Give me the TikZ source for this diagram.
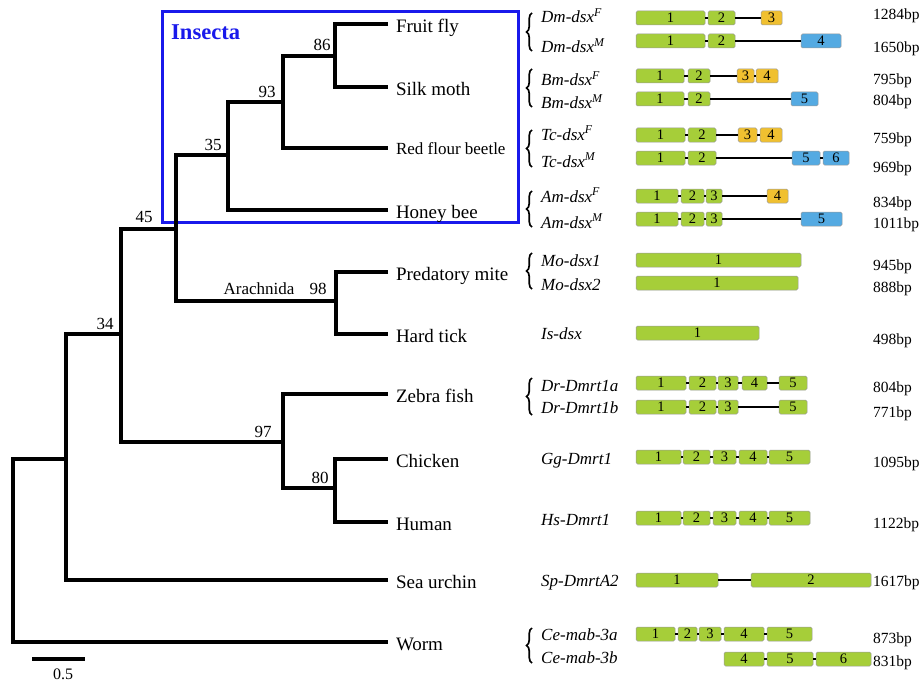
\documentclass[tikz,border=0pt]{standalone}
\usepackage{fontspec}
\setmainfont{Liberation Serif}
\usetikzlibrary{decorations.pathreplacing}
\definecolor{exg}{RGB}{166,206,57}
\definecolor{exo}{RGB}{240,192,48}
\definecolor{exb}{RGB}{84,170,226}
\definecolor{insblue}{RGB}{25,25,235}
\newcommand\exn[6]{\node[exon,fill=#5,minimum width={(#3)-(#2)}] (#1) at ({((#2)+(#3))/2},#4) {#6};}
\begin{document}
\begin{tikzpicture}[x=1pt,y=-1pt,
  branch/.style={line width=3.2pt,line join=miter},
  tip/.style={anchor=west,inner xsep=8pt,inner ysep=0pt,outer sep=0pt,text height=16.6pt,text depth=0pt,font=\fontsize{19}{22}\selectfont},
  boot/.style={inner sep=0pt,font=\fontsize{17}{20}\selectfont},
  gene/.style={anchor=base west,inner sep=0pt,font=\fontsize{17}{20}\selectfont\itshape},
  bp/.style={anchor=base west,inner sep=0pt,font=\fontsize{15.5}{18}\selectfont},
  exon/.style={draw=black!40,line width=0.5pt,rounded corners=1.5pt,minimum height=14pt,inner sep=0pt,font=\fontsize{14.5}{15}\selectfont},
  intron/.style={line width=1.6pt,black},
  brc/.style={decorate,decoration={brace,amplitude=5.5pt},line width=1.7pt}]
\useasboundingbox (0,0) rectangle (923,682);

% Insecta box
\node[draw=insblue,line width=3pt,minimum width=356pt,minimum height=210pt,inner sep=0pt,outer sep=0pt,anchor=north west] (insbox) at (162,12) {};
\node[anchor=base west,inner sep=0pt,text=insblue,font=\fontsize{22.6}{26}\selectfont\bfseries] (insecta) at (171,40) {Insecta};

% tips
\node[tip] (fruit) at (388,24) {Fruit fly};
\node[tip] (silk) at (388,87) {Silk moth};
\node[tip,font=\fontsize{17}{20}\selectfont,text height=12pt] (beetle) at (388,148) {Red flour beetle};
\node[tip] (bee) at (388,210) {Honey bee};
\node[tip] (mite) at (388,272) {Predatory mite};
\node[tip] (tick) at (388,334) {Hard tick};
\node[tip] (zebra) at (388,394) {Zebra fish};
\node[tip] (chicken) at (388,459) {Chicken};
\node[tip] (human) at (388,522) {Human};
\node[tip] (urchin) at (388,580) {Sea urchin};
\node[tip] (worm) at (388,642) {Worm};

% internal nodes
\coordinate (n86) at (335,56);
\coordinate (n93) at (283,102);
\coordinate (n35) at (228,155);
\coordinate (n45) at (176,229);
\coordinate (n98) at (336,301);
\coordinate (n80) at (335,488);
\coordinate (n97) at (283,442);
\coordinate (n34) at (121,334);
\coordinate (nA) at (66,459);
\coordinate (r) at (13,550);

\draw[branch] (fruit.west) -| (n86) |- (silk.west);
\draw[branch] (n86) -| (n93) |- (beetle.west);
\draw[branch] (n93) -| (n35) |- (bee.west);
\draw[branch] (mite.west) -| (n98) |- (tick.west);
\draw[branch] (n35) -| (n45) |- (n98);
\draw[branch] (chicken.west) -| (n80) |- (human.west);
\draw[branch] (zebra.west) -| (n97) |- (n80);
\draw[branch] (n45) -| (n34) |- (n97);
\draw[branch] (n34) -| (nA) |- (urchin.west);
\draw[branch] (nA) -| (r) |- (worm.west);

% bootstrap values
\node[boot] (b86) at (322,45) {86};
\node[boot] (b93) at (267,92) {93};
\node[boot] (b35) at (213,145) {35};
\node[boot] (b45) at (144,217) {45};
\node[boot] (b98) at (318,289) {98};
\node[boot] (arach) at (259,289) {Arachnida};
\node[boot] (b34) at (105,324) {34};
\node[boot] (b97) at (263,432) {97};
\node[boot] (b80) at (320,478) {80};

% scale bar
\coordinate (sb1) at (32,659);
\coordinate (sb2) at (85,659);
\draw[branch] (sb1) -- (sb2);
\node[inner sep=0pt,font=\fontsize{16}{18}\selectfont] (sbl) at (63,674.5) {0.5};

% braces
\draw[brc] (532,51) -- (532,13);
\draw[brc] (532,107) -- (532,69);
\draw[brc] (532,167) -- (532,130);
\draw[brc] (532,227) -- (532,191);
\draw[brc] (532,289) -- (532,253);
\draw[brc] (532,415) -- (532,378);
\draw[brc] (532,663) -- (532,628);

% gene names
\node[gene] (gDmF) at (541,23) {Dm-dsx\textsuperscript{F}};
\node[gene] (gDmM) at (541,53) {Dm-dsx\textsuperscript{M}};
\node[gene] (gBmF) at (541,86) {Bm-dsx\textsuperscript{F}};
\node[gene] (gBmM) at (541,109) {Bm-dsx\textsuperscript{M}};
\node[gene] (gTcF) at (541,140) {Tc-dsx\textsuperscript{F}};
\node[gene] (gTcM) at (541,167) {Tc-dsx\textsuperscript{M}};
\node[gene] (gAmF) at (541,202) {Am-dsx\textsuperscript{F}};
\node[gene] (gAmM) at (541,228) {Am-dsx\textsuperscript{M}};
\node[gene] (gMo1) at (541,266) {Mo-dsx1};
\node[gene] (gMo2) at (541,290) {Mo-dsx2};
\node[gene] (gIs) at (541,339) {Is-dsx};
\node[gene] (gDra) at (541,391) {Dr-Dmrt1a};
\node[gene] (gDrb) at (541,413) {Dr-Dmrt1b};
\node[gene] (gGg) at (541,464) {Gg-Dmrt1};
\node[gene] (gHs) at (541,525) {Hs-Dmrt1};
\node[gene] (gSp) at (541,586) {Sp-DmrtA2};
\node[gene] (gCea) at (541,640) {Ce-mab-3a};
\node[gene] (gCeb) at (541,663) {Ce-mab-3b};

% lengths
\node[bp] (lDmF) at (873,20) {1284bp};
\node[bp] (lDmM) at (873,53) {1650bp};
\node[bp] (lBmF) at (873,85) {795bp};
\node[bp] (lBmM) at (873,106) {804bp};
\node[bp] (lTcF) at (873,143) {759bp};
\node[bp] (lTcM) at (873,172) {969bp};
\node[bp] (lAmF) at (873,207) {834bp};
\node[bp] (lAmM) at (873,228) {1011bp};
\node[bp] (lMo1) at (873,270) {945bp};
\node[bp] (lMo2) at (873,292) {888bp};
\node[bp] (lIs) at (873,344) {498bp};
\node[bp] (lDra) at (873,392) {804bp};
\node[bp] (lDrb) at (873,417) {771bp};
\node[bp] (lGg) at (873,467) {1095bp};
\node[bp] (lHs) at (873,528) {1122bp};
\node[bp] (lSp) at (873,586) {1617bp};
\node[bp] (lCea) at (873,643) {873bp};
\node[bp] (lCeb) at (873,666) {831bp};

% exons: Dm
\exn{dmf1}{636}{705}{18}{exg}{1}
\exn{dmf2}{708}{735}{18}{exg}{2}
\exn{dmf3}{761}{782}{18}{exo}{3}
\draw[intron] (dmf1) -- (dmf2) -- (dmf3);
\exn{dmm1}{636}{705}{41}{exg}{1}
\exn{dmm2}{708}{735}{41}{exg}{2}
\exn{dmm4}{801}{841}{41}{exb}{4}
\draw[intron] (dmm1) -- (dmm2) -- (dmm4);
% Bm
\exn{bmf1}{636}{684}{76}{exg}{1}
\exn{bmf2}{688}{710}{76}{exg}{2}
\exn{bmf3}{737}{754}{76}{exo}{3}
\exn{bmf4}{756}{778}{76}{exo}{4}
\draw[intron] (bmf1) -- (bmf2) -- (bmf3) -- (bmf4);
\exn{bmm1}{636}{684}{99}{exg}{1}
\exn{bmm2}{688}{710}{99}{exg}{2}
\exn{bmm5}{791}{818}{99}{exb}{5}
\draw[intron] (bmm1) -- (bmm2) -- (bmm5);
% Tc
\exn{tcf1}{636}{685}{135}{exg}{1}
\exn{tcf2}{688}{716}{135}{exg}{2}
\exn{tcf3}{738}{757}{135}{exo}{3}
\exn{tcf4}{760}{782}{135}{exo}{4}
\draw[intron] (tcf1) -- (tcf2) -- (tcf3) -- (tcf4);
\exn{tcm1}{636}{685}{158}{exg}{1}
\exn{tcm2}{688}{716}{158}{exg}{2}
\exn{tcm5}{792}{820}{158}{exb}{5}
\exn{tcm6}{823}{849}{158}{exb}{6}
\draw[intron] (tcm1) -- (tcm2) -- (tcm5) -- (tcm6);
% Am
\exn{amf1}{636}{678}{196}{exg}{1}
\exn{amf2}{681}{704}{196}{exg}{2}
\exn{amf3}{706}{722}{196}{exg}{3}
\exn{amf4}{767}{788}{196}{exo}{4}
\draw[intron] (amf1) -- (amf2) -- (amf3) -- (amf4);
\exn{amm1}{636}{678}{219}{exg}{1}
\exn{amm2}{681}{704}{219}{exg}{2}
\exn{amm3}{706}{722}{219}{exg}{3}
\exn{amm5}{801}{842}{219}{exb}{5}
\draw[intron] (amm1) -- (amm2) -- (amm3) -- (amm5);
% Mo, Is
\exn{mo1}{636}{801}{260}{exg}{1}
\exn{mo2}{636}{798}{283}{exg}{1}
\exn{is1}{636}{759}{333}{exg}{1}
% Dr
\exn{dra1}{636}{686}{383}{exg}{1}
\exn{dra2}{689}{716}{383}{exg}{2}
\exn{dra3}{718}{738}{383}{exg}{3}
\exn{dra4}{742}{767}{383}{exg}{4}
\exn{dra5}{779}{807}{383}{exg}{5}
\draw[intron] (dra1) -- (dra2) -- (dra3) -- (dra4) -- (dra5);
\exn{drb1}{636}{686}{407}{exg}{1}
\exn{drb2}{689}{716}{407}{exg}{2}
\exn{drb3}{718}{738}{407}{exg}{3}
\exn{drb5}{779}{807}{407}{exg}{5}
\draw[intron] (drb1) -- (drb2) -- (drb3) -- (drb5);
% Gg
\exn{gg1}{636}{681}{457}{exg}{1}
\exn{gg2}{683}{710}{457}{exg}{2}
\exn{gg3}{713}{736}{457}{exg}{3}
\exn{gg4}{739}{767}{457}{exg}{4}
\exn{gg5}{769}{810}{457}{exg}{5}
\draw[intron] (gg1) -- (gg2) -- (gg3) -- (gg4) -- (gg5);
% Hs
\exn{hs1}{636}{681}{518}{exg}{1}
\exn{hs2}{683}{710}{518}{exg}{2}
\exn{hs3}{713}{736}{518}{exg}{3}
\exn{hs4}{739}{767}{518}{exg}{4}
\exn{hs5}{769}{810}{518}{exg}{5}
\draw[intron] (hs1) -- (hs2) -- (hs3) -- (hs4) -- (hs5);
% Sp
\exn{sp1}{636}{718}{580}{exg}{1}
\exn{sp2}{751}{871}{580}{exg}{2}
\draw[intron] (sp1) -- (sp2);
% Ce
\exn{cea1}{636}{675}{634}{exg}{1}
\exn{cea2}{678}{697}{634}{exg}{2}
\exn{cea3}{699}{721}{634}{exg}{3}
\exn{cea4}{724}{764}{634}{exg}{4}
\exn{cea5}{767}{812}{634}{exg}{5}
\draw[intron] (cea1) -- (cea2) -- (cea3) -- (cea4) -- (cea5);
\exn{ceb4}{724}{764}{659}{exg}{4}
\exn{ceb5}{767}{813}{659}{exg}{5}
\exn{ceb6}{816}{871}{659}{exg}{6}
\draw[intron] (ceb4) -- (ceb5) -- (ceb6);
\end{tikzpicture}
\end{document}
